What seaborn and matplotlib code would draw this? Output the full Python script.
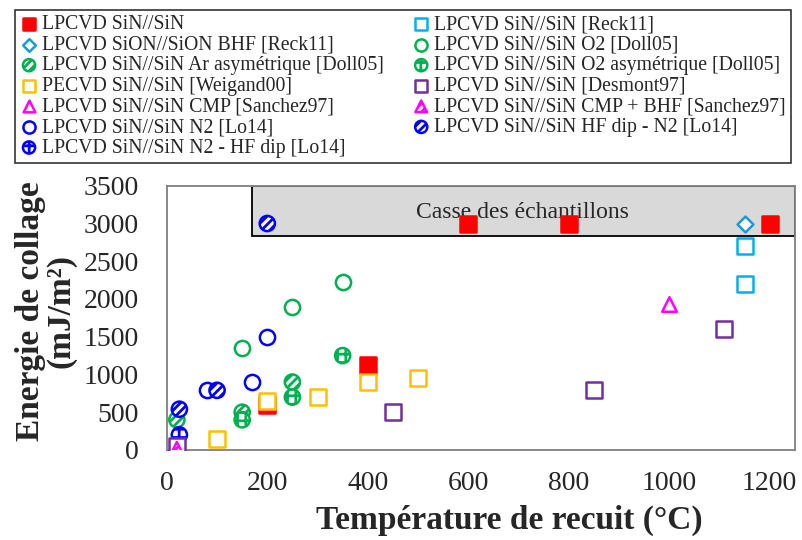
import pandas as pd
import seaborn as sns
import matplotlib.pyplot as plt
from matplotlib.patches import Rectangle

# Annealing temperature (°C) and bonding energy (mJ/m²) for each series
sin_x = [200, 400, 600, 800, 1200]
sin_y = [600, 1130, 3000, 3000, 3000]
reck_sion_x = [1150]
reck_sion_y = [3000]
doll_ar_x = [20, 150, 250]
doll_ar_y = [400, 500, 900]
weigand_x = [100, 200, 300, 400, 500]
weigand_y = [150, 650, 700, 900, 950]
sanchez_cmp_x = [20, 1000]
sanchez_cmp_y = [30, 1940]
lo_n2_x = [80, 170, 200]
lo_n2_y = [800, 900, 1500]
lo_n2_hf_x = [25]
lo_n2_hf_y = [200]
reck_sin_x = [1150, 1150]
reck_sin_y = [2700, 2200]
doll_o2_x = [150, 250, 350]
doll_o2_y = [1350, 1900, 2220]
doll_o2_asym_x = [150, 250, 350]
doll_o2_asym_y = [400, 700, 1250]
desmont_x = [20, 450, 850, 1110]
desmont_y = [50, 500, 800, 1600]
sanchez_bhf_x = [20]
sanchez_bhf_y = [10]
lo_hf_n2_x = [25, 100, 200]
lo_hf_n2_y = [540, 790, 3000]

RED = '#FF0000'
LBLUE = '#00B0F0'
DBLUE = '#1A9AD6'
GREEN = '#00B050'
YELLOW = '#FFC000'
MAGENTA = '#FF00FF'
BLUE = '#0000FF'
PURPLE = '#7030A0'

# (label, x, y, marker, face, edge, hatch) in legend order
series = [
    ('LPCVD SiN//SiN', sin_x, sin_y, 's', RED, RED, None),
    ('LPCVD SiON//SiON BHF [Reck11]', reck_sion_x, reck_sion_y, 'D', 'white', DBLUE, None),
    ('LPCVD SiN//SiN Ar asymétrique [Doll05]', doll_ar_x, doll_ar_y, 'o', 'white', GREEN, '////'),
    ('PECVD SiN//SiN [Weigand00]', weigand_x, weigand_y, 's', 'white', YELLOW, None),
    ('LPCVD SiN//SiN CMP [Sanchez97]', sanchez_cmp_x, sanchez_cmp_y, '^', 'white', MAGENTA, None),
    ('LPCVD SiN//SiN N2 [Lo14]', lo_n2_x, lo_n2_y, 'o', 'white', BLUE, None),
    ('LPCVD SiN//SiN N2 - HF dip [Lo14]', lo_n2_hf_x, lo_n2_hf_y, 'o', 'white', BLUE, '++'),
    ('LPCVD SiN//SiN [Reck11]', reck_sin_x, reck_sin_y, 's', 'white', LBLUE, None),
    ('LPCVD SiN//SiN O2 [Doll05]', doll_o2_x, doll_o2_y, 'o', 'white', GREEN, None),
    ('LPCVD SiN//SiN O2 asymétrique [Doll05]', doll_o2_asym_x, doll_o2_asym_y, 'o', 'white', GREEN, '++'),
    ('LPCVD SiN//SiN [Desmont97]', desmont_x, desmont_y, 's', 'white', PURPLE, None),
    ('LPCVD SiN//SiN CMP + BHF [Sanchez97]', sanchez_bhf_x, sanchez_bhf_y, '^', 'white', MAGENTA, '////'),
    ('LPCVD SiN//SiN HF dip - N2 [Lo14]', lo_hf_n2_x, lo_hf_n2_y, 'o', 'white', BLUE, '////'),
]

sns.set_style('white')
plt.rcParams['font.family'] = ['Liberation Serif', 'DejaVu Serif']
plt.rcParams['hatch.linewidth'] = 2.0

fig = plt.figure(figsize=(8.02, 5.40), dpi=100)
ax = fig.add_axes([0.208, 0.1667, 0.783, 0.4893])

# "sample breakage" zone
ax.add_patch(Rectangle((170, 2830), 1080, 670, facecolor='#D9D9D9',
                       edgecolor='black', linewidth=1.3, zorder=1))
ax.text(708, 3150, 'Casse des échantillons', ha='center', va='center',
        fontsize=17, zorder=2)

handles = []
for label, xs, ys, marker, face, edge, hatch in series:
    df = pd.DataFrame({'T': xs, 'E': ys})
    size = 120
    if marker == 'D':
        size = 65
    elif marker == '^':
        size = 110
    sns.scatterplot(data=df, x='T', y='E', marker=marker, s=size,
                    facecolor=face, edgecolor=edge, linewidth=1.8,
                    label=label, ax=ax, zorder=3, legend=False)
    coll = ax.collections[-1]
    if hatch:
        coll.set_hatch(hatch)
    handles.append(coll)

ax.set_xlim(0, 1250)
ax.set_ylim(0, 3500)
ax.set_xticks(range(0, 1201, 200))
ax.set_xticks(range(100, 1201, 200), minor=True)
ax.set_yticks(range(0, 3501, 500))
ax.tick_params(axis='both', which='both', direction='in', color='#808080',
               width=1.2, labelsize=20)
ax.tick_params(axis='both', which='major', length=8)
ax.tick_params(axis='x', which='minor', length=8)
ax.tick_params(axis='y', pad=20)
ax.tick_params(axis='x', pad=15)
for sp in ax.spines.values():
    sp.set_color('#808080')
    sp.set_linewidth(1.3)

ax.set_xlabel('Température de recuit (°C)', fontsize=24, fontweight='bold',
              va='center')
ax.xaxis.set_label_coords(0.546, -0.265)
ax.set_ylabel('Energie de collage\n(mJ/m²)', fontsize=24, fontweight='bold',
              linespacing=0.95, va='center')
ax.yaxis.set_label_coords(-0.193, 0.525)

labels = [s[0] for s in series]
leg = fig.legend(handles, labels, ncol=2, loc='upper left',
                 bbox_to_anchor=(0.019, 0.981), fontsize=14.2, frameon=True,
                 fancybox=False, edgecolor='black', borderpad=0.25,
                 labelspacing=0.08, handletextpad=0.2, handlelength=0.9,
                 columnspacing=1.45, borderaxespad=0, markerscale=0.8)
leg.get_frame().set_linewidth(1.2)

fig.savefig('out.png', dpi=100)
